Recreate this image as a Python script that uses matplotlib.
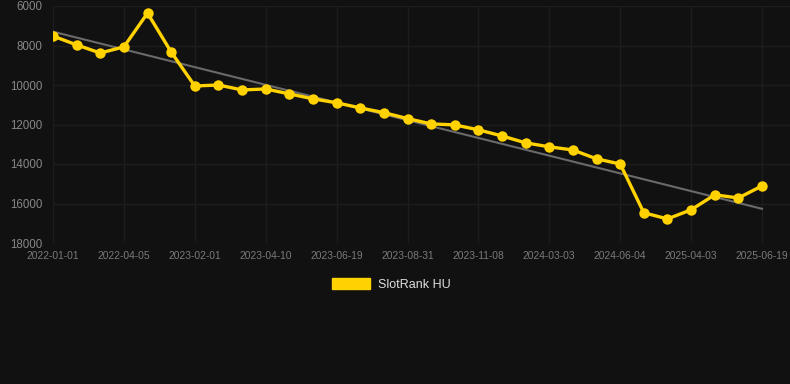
import matplotlib
matplotlib.use("Agg")
import matplotlib.pyplot as plt
from matplotlib.patches import Patch
import numpy as np

# Data (rank, lower is better -> inverted axis)
dates = [
    "2022-01-01", "", "", "2022-04-05", "", "", "2023-02-01", "", "", "2023-04-10",
    "", "", "2023-06-19", "", "", "2023-08-31", "", "", "2023-11-08", "",
    "", "2024-03-03", "", "", "2024-06-04", "", "", "2025-04-03", "", "",
    "2025-06-19",
]
rank = [
    7520, 7970, 8380, 8070, 6360, 8330, 10050, 10000, 10250, 10200,
    10450, 10700, 10900, 11160, 11400, 11700, 11970, 12020, 12270, 12580,
    12930, 13130, 13290, 13740, 14000, 16470, 16780, 16320, 15560, 15720,
    15110,
]
series_name = "SlotRank HU"

bg = "#111111"
yellow = "#FFD200"
grid_c = "#1d1d1d"

plt.rcParams["font.family"] = ["Liberation Sans", "DejaVu Sans"]

fig = plt.figure(figsize=(7.9, 3.84), dpi=100, facecolor=bg)
ax = fig.add_axes([53 / 790, (384 - 243) / 384, (790 - 53) / 790, 237 / 384])
ax.set_facecolor(bg)

x = np.arange(len(rank))

# trend line (linear fit)
k, m = np.polyfit(x, rank, 1)
ax.plot(x, k * x + m, color="#6a6a6a", linewidth=1.5, zorder=2)

ax.plot(x, rank, color=yellow, linewidth=2.4, marker="o", markersize=7.5,
        markeredgewidth=0, zorder=3)

ax.set_ylim(18000, 6000)
ax.set_yticks([6000, 8000, 10000, 12000, 14000, 16000, 18000])
tick_pos = [i for i, d in enumerate(dates) if d]
ax.set_xticks(tick_pos)
ax.set_xticklabels([dates[i] for i in tick_pos])
ax.set_xlim(0, 30 + 28 / ((762 - 53) / 30))

ax.grid(True, color=grid_c, linewidth=1)
ax.set_axisbelow(True)
for s in ax.spines.values():
    s.set_visible(False)
ax.tick_params(axis="both", length=0)
ax.tick_params(axis="y", labelsize=8.3, colors="#888888", pad=7.5)
ax.tick_params(axis="x", labelsize=7.4, colors="#7a7a7a", pad=6)

fig.legend(handles=[Patch(facecolor=yellow, edgecolor=yellow, label=series_name)],
           loc="center", bbox_to_anchor=(391 / 790, 1 - 284.5 / 384),
           frameon=False, fontsize=9, labelcolor="#dddddd",
           handlelength=3.1, handleheight=0.9, handletextpad=0.6)

fig.savefig("out.png", dpi=100, facecolor=bg)
